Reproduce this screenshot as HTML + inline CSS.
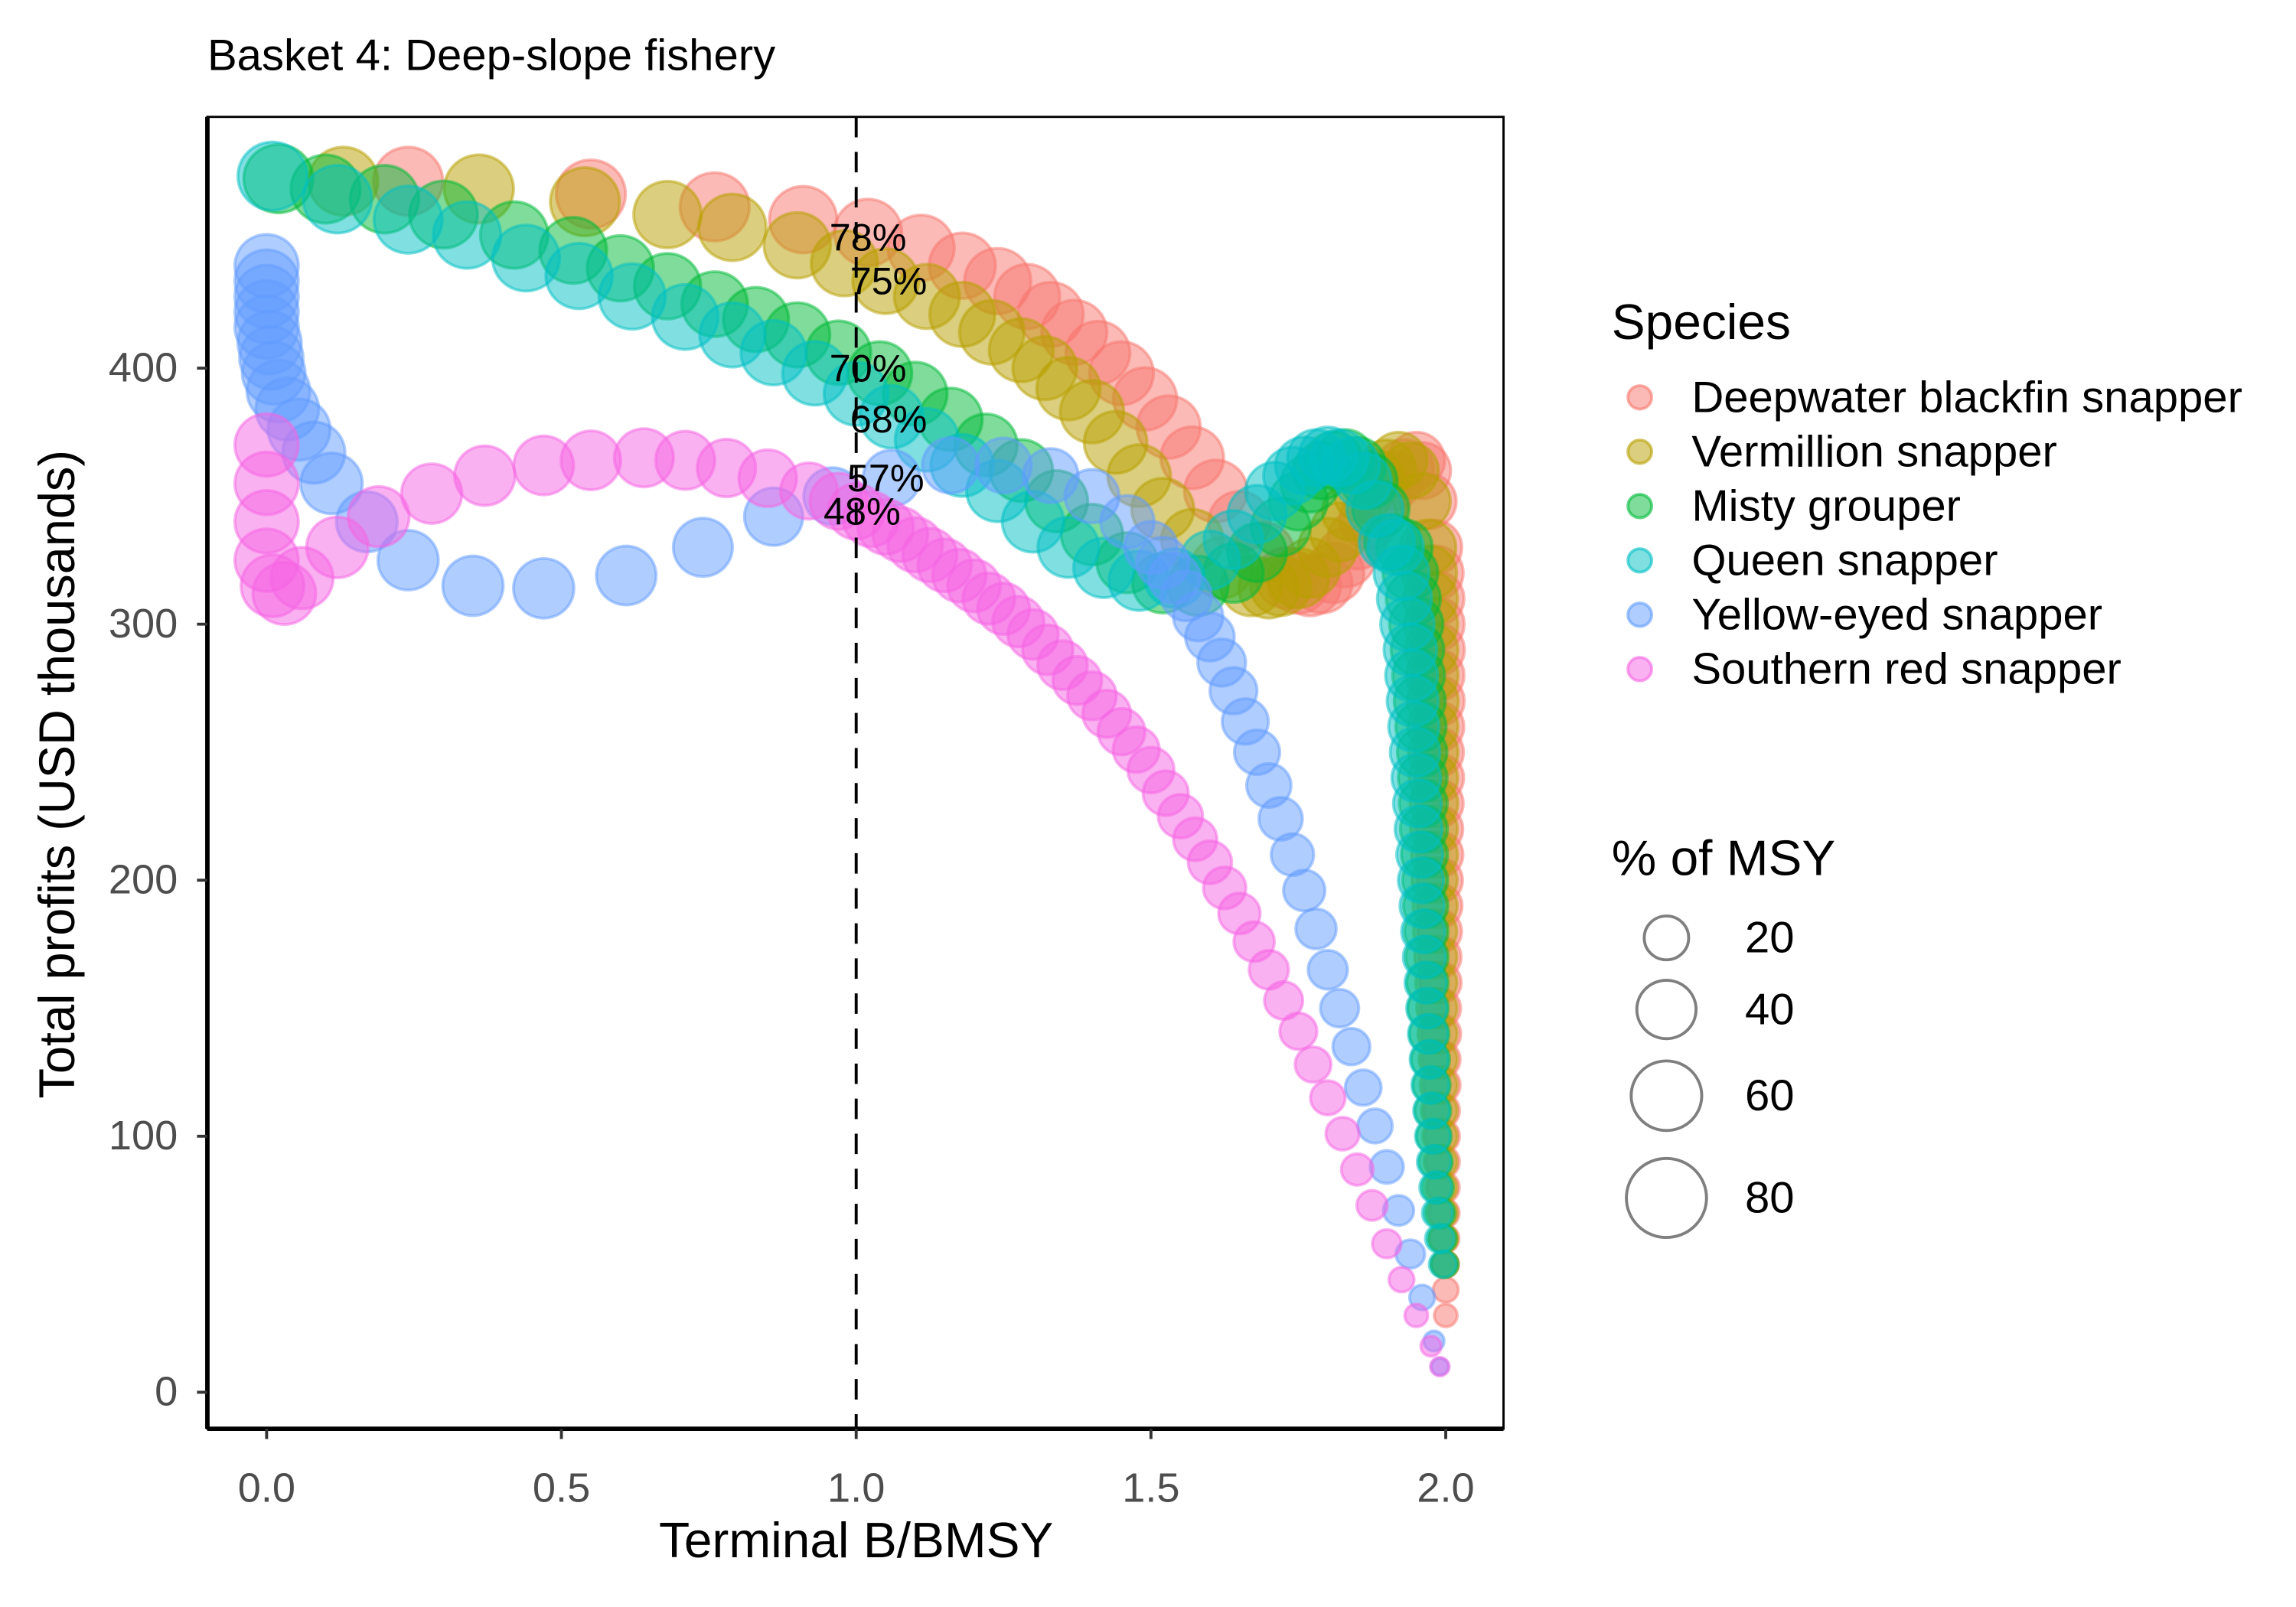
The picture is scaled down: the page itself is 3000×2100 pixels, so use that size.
<!DOCTYPE html>
<html><head><meta charset="utf-8"><style>
html,body{margin:0;padding:0;background:#fff;}
svg{display:block;font-family:"Liberation Sans",Arial,sans-serif;}
</style></head><body>
<svg id="chart" width="3000" height="2100" viewBox="0 0 1550 1100" preserveAspectRatio="none" xmlns="http://www.w3.org/2000/svg">
<text x="140" y="48" font-size="30" fill="#000">Basket 4: Deep-slope fishery</text>
<rect x="140" y="80" width="875" height="898" fill="#fff" stroke="#000" stroke-width="1.5"/>
<g id="marks"></g>
<line x1="578" y1="80" x2="578" y2="978" stroke="#000" stroke-width="2" stroke-dasharray="14,10"/>
<g id="labels"></g>
<line x1="140" y1="978" x2="1015" y2="978" stroke="#000" stroke-width="3"/>
<line x1="140" y1="80" x2="140" y2="978" stroke="#000" stroke-width="3"/>
<g id="axes"></g>
<text x="578" y="1066" font-size="34" text-anchor="middle" fill="#000">Terminal B/BMSY</text>
<text x="50" y="530" font-size="34" text-anchor="middle" fill="#000" transform="rotate(-90 50 530)">Total profits (USD thousands)</text>
<g id="legend"></g>
</svg>
<script>
const NS='http://www.w3.org/2000/svg';
const species=['Deepwater blackfin snapper','Vermillion snapper','Misty grouper','Queen snapper','Yellow-eyed snapper','Southern red snapper'];
const colors=['#F8766D','#B79F00','#00BA38','#00BFC4','#619CFF','#F564E3'];
const xTicks=[0,0.5,1,1.5,2];
const xTickLabels=['0.0','0.5','1.0','1.5','2.0'];
const yTicks=[0,100,200,300,400];
const sizeBreaks=[20,40,60,80];
const pctLabels=['78%','75%','70%','68%','57%','48%'];
const pctLabelX=[1.02,1.055,1.02,1.055,1.05,1.01];
const pctLabelY=[451,434,400,380,357,344];

const colY=[330,320,310,300,290,280,270,260,250,240,230,220,210,200,190,180,170,160,150,140,130,120,110,100,90,80,70,60,50,40,30,20,10];
const colP=[33,32,31,30,29,28,27,26,25,24,23,22,21,20,19,18,17,16,15,14,13,12,11,10,9,8,7,6,5,4,3,2,1];

const redX=[0.24,0.55,0.76,0.91,1.02,1.11,1.18,1.24,1.29,1.33,1.37,1.41,1.45,1.49,1.53,1.57,1.61,1.65,1.69,1.73,1.75,1.77,1.79,1.81,1.83,1.85,1.87,1.89,1.91,1.93,1.95,1.96,1.97,
1.98,1.983,1.985,1.986,1.987,1.987,1.988,1.988,1.988,1.989,1.989,1.989,1.99,1.99,1.99,1.99,1.99,1.991,1.991,1.992,1.992,1.993,1.993,1.994,1.995,1.996,1.997,1.998,1.999,2,2];
const redY=[473,468,463,458,453,447,440,434,428,421,414,406,398,388,377,365,352,340,328,318,316,315,316,320,326,333,341,349,356,361,364,360,348].concat(colY);
const redP=[55,55,55,52,52,50,50,50,48,48,48,46,46,45,45,44,44,42,42,42,41,41,40,40,39,39,38,38,37,36,35,35,34].concat(colP);

const oliveX=[0.13,0.36,0.54,0.68,0.79,0.9,0.98,1.05,1.12,1.18,1.23,1.28,1.32,1.36,1.4,1.44,1.48,1.52,1.57,1.62,1.67,1.7,1.72,1.75,1.77,1.8,1.82,1.84,1.86,1.88,1.9,1.92,1.94,1.96,
1.97,1.972,1.974,1.975,1.976,1.977,1.978,1.978,1.979,1.979,1.98,1.98,1.981,1.981,1.982,1.982,1.983,1.984,1.985,1.986,1.987,1.988,1.989,1.99,1.991,1.992,1.994,1.996,1.998];
const oliveY=[473,470,465,460,455,448,441,434,428,421,414,407,400,392,383,371,358,345,333,322,315,314,315,318,322,330,336,344,351,357,361,364,360,348].concat(colY);
const oliveP=[55,55,55,52,52,50,50,49,48,48,47,46,46,45,45,44,44,43,42,42,41,40,40,40,39,38,38,37,37,36,35,35,34,34].concat(colP);

const greenX=[0.02,0.1,0.2,0.3,0.42,0.52,0.6,0.68,0.76,0.83,0.9,0.97,1.04,1.1,1.16,1.22,1.28,1.34,1.4,1.46,1.52,1.58,1.64,1.68,1.72,1.75,1.77,1.79,1.81,1.83,1.85,1.87,1.89,1.91,
1.93,1.94,1.945,1.95,1.952,1.954,1.956,1.958,1.96,1.961,1.962,1.963,1.964,1.965,1.966,1.967,1.968,1.969,1.97,1.972,1.974,1.976,1.978,1.98,1.983,1.986,1.99,1.994,1.998];
const greenY=[474,470,466,460,452,446,439,432,425,419,413,406,398,390,380,370,360,348,335,324,316,315,320,328,338,348,355,360,364,365,362,356,345,332].concat(colY);
const greenP=[55,55,54,53,52,51,50,50,49,48,48,47,46,46,45,44,44,43,42,41,40,40,39,38,38,37,37,36,36,35,35,34,34,34].concat(colP);

const tealX=[0.01,0.12,0.24,0.34,0.44,0.53,0.62,0.71,0.79,0.86,0.93,1,1.06,1.12,1.18,1.24,1.3,1.36,1.42,1.48,1.54,1.6,1.64,1.68,1.71,1.74,1.76,1.78,1.8,1.82,1.84,1.86,1.88,1.9,
1.915,1.925,1.93,1.935,1.94,1.942,1.944,1.946,1.948,1.95,1.952,1.954,1.956,1.958,1.96,1.962,1.964,1.966,1.968,1.97,1.972,1.974,1.976,1.978,1.98,1.983,1.986,1.99,1.995];
const tealY=[475,466,458,452,443,436,428,420,413,406,398,390,381,372,362,352,340,330,322,317,318,325,333,343,352,358,362,365,366,365,362,356,345,332].concat(colY);
const tealP=[55,54,53,52,51,50,50,49,48,48,47,46,45,45,44,43,42,41,40,40,39,38,38,37,37,36,36,35,35,35,34,34,34,33].concat(colP);

const blueX=[0,0,0,0,0,0.005,0.008,0.012,0.02,0.035,0.055,0.08,0.11,0.17,0.24,0.35,0.47,0.61,0.74,0.86,0.96,1.06,1.16,1.25,1.33,1.4,1.46,
1.5,1.52,1.54,1.56,1.58,1.6,1.62,1.64,1.66,1.68,1.7,1.72,1.74,1.76,1.78,1.8,1.82,1.84,1.86,1.88,1.9,1.92,1.94,1.96,1.98,1.99];
const blueY=[440,434,428,422,416,410,404,398,391,384,376,367,355,340,325,315,314,319,330,342,350,357,362,362,358,350,340,
330,324,318,311,303,295,285,274,262,250,237,224,210,196,181,165,150,135,119,104,88,71,54,37,20,10];
const blueP=[45,45,45,45,45,45,45,44,44,44,43,43,42,41,40,40,40,39,38,37,36,35,34,33,32,31,30,
29,28,27,26,25,24,23,22,21,20,19,18,17,16,15,14,13,12,11,10,9,7,6,4,2,1];

const pinkX=[0,0,0,0,0.01,0.03,0.06,0.12,0.19,0.28,0.37,0.47,0.55,0.64,0.71,0.78,0.85,0.92,0.97,
1.0,1.025,1.05,1.075,1.1,1.125,1.15,1.175,1.2,1.225,1.25,1.275,1.3,1.325,1.35,1.375,1.4,1.425,1.45,1.475,1.5,1.525,1.55,1.575,1.6,1.625,1.65,1.675,1.7,1.725,1.75,1.775,1.8,1.825,1.85,1.875,1.9,1.925,1.95,1.975,1.99];
const pinkY=[370,355,340,325,315,312,318,330,342,351,358,362,364,365,364,361,357,352,348,
344,341,338,335,331,327,323,319,315,310,306,301,296,290,284,278,272,265,258,251,243,234,225,216,207,197,187,176,165,153,141,128,115,101,87,73,58,44,30,18,10];
const pinkP=[45,45,45,45,44,44,43,42,41,40,40,39,39,38,38,37,36,35,35,
34,33,33,32,32,31,30,30,29,28,28,27,26,26,25,24,24,23,22,21,21,20,19,18,18,17,16,15,14,13,12,11,10,9,8,7,6,4,3,2,1.5];

const seriesX=[redX,oliveX,greenX,tealX,blueX,pinkX];
const seriesY=[redY,oliveY,greenY,tealY,blueY,pinkY];
const seriesP=[redP,oliveP,greenP,tealP,blueP,pinkP];

function sx(v){return 180+v*398;}
function sy(v){return 953-v*1.7525;}
function sr(p){return 3+2.75*Math.sqrt(p);}

const marks=document.getElementById('marks');
[0,1,2,3,4,5].forEach(function(s){
  const xs=seriesX[s],ys=seriesY[s],ps=seriesP[s];
  const n=Math.min(xs.length,ys.length,ps.length);
  for(let i=0;i<n;i++){
    const c=document.createElementNS(NS,'circle');
    c.setAttribute('cx',sx(xs[i]));c.setAttribute('cy',sy(ys[i]));c.setAttribute('r',sr(ps[i]));
    c.setAttribute('fill',colors[s]);c.setAttribute('fill-opacity','0.5');
    c.setAttribute('stroke',colors[s]);c.setAttribute('stroke-opacity','0.5');c.setAttribute('stroke-width','2');
    
    
    marks.appendChild(c);
  }
});

const labels=document.getElementById('labels');
pctLabels.forEach(function(t,i){
  const e=document.createElementNS(NS,'text');
  e.setAttribute('x',sx(pctLabelX[i]));e.setAttribute('y',sy(pctLabelY[i])+9);
  e.setAttribute('font-size','26');e.setAttribute('text-anchor','middle');e.textContent=t;
  
  
  labels.appendChild(e);
});

const axes=document.getElementById('axes');
xTicks.forEach(function(v,i){
  const l=document.createElementNS(NS,'line');
  l.setAttribute('x1',sx(v));l.setAttribute('x2',sx(v));l.setAttribute('y1',978);l.setAttribute('y2',985);
  l.setAttribute('stroke','#333');l.setAttribute('stroke-width','2');
  
  
  axes.appendChild(l);
  const t=document.createElementNS(NS,'text');
  t.setAttribute('x',sx(v));t.setAttribute('y',1028);t.setAttribute('font-size','28');
  t.setAttribute('text-anchor','middle');t.setAttribute('fill','#4d4d4d');t.textContent=xTickLabels[i];
  
  
  axes.appendChild(t);
});
yTicks.forEach(function(v){
  const l=document.createElementNS(NS,'line');
  l.setAttribute('x1',133);l.setAttribute('x2',140);l.setAttribute('y1',sy(v));l.setAttribute('y2',sy(v));
  l.setAttribute('stroke','#333');l.setAttribute('stroke-width','2');
  
  
  axes.appendChild(l);
  const t=document.createElementNS(NS,'text');
  t.setAttribute('x',120);t.setAttribute('y',sy(v)+9);t.setAttribute('font-size','28');
  t.setAttribute('text-anchor','end');t.setAttribute('fill','#4d4d4d');t.textContent=v;
  
  
  axes.appendChild(t);
});

const lg=document.getElementById('legend');
const lt=document.createElementNS(NS,'text');
lt.setAttribute('x',1088);lt.setAttribute('y',232);lt.setAttribute('font-size','34');lt.textContent='Species';


lg.appendChild(lt);
species.forEach(function(name,i){
  const y=272+i*37.2;
  const c=document.createElementNS(NS,'circle');
  c.setAttribute('cx',1107);c.setAttribute('cy',y);c.setAttribute('r',8);
  c.setAttribute('fill',colors[i]);c.setAttribute('fill-opacity','0.5');
  c.setAttribute('stroke',colors[i]);c.setAttribute('stroke-opacity','0.6');c.setAttribute('stroke-width','2');
  
  
  lg.appendChild(c);
  const t=document.createElementNS(NS,'text');
  t.setAttribute('x',1142);t.setAttribute('y',y+10);t.setAttribute('font-size','30');t.textContent=name;
  
  
  lg.appendChild(t);
});
const st=document.createElementNS(NS,'text');
st.setAttribute('x',1088);st.setAttribute('y',599);st.setAttribute('font-size','34');st.textContent='% of MSY';


lg.appendChild(st);
const sizeY=[642,691,750,820];
sizeBreaks.forEach(function(b,i){
  const c=document.createElementNS(NS,'circle');
  c.setAttribute('cx',1125);c.setAttribute('cy',sizeY[i]);c.setAttribute('r',sr(b)*0.98);
  c.setAttribute('fill','none');c.setAttribute('stroke','#7f7f7f');c.setAttribute('stroke-width','2');
  
  
  lg.appendChild(c);
  const t=document.createElementNS(NS,'text');
  t.setAttribute('x',1178);t.setAttribute('y',sizeY[i]+10);t.setAttribute('font-size','30');t.textContent=b;
  
  
  lg.appendChild(t);
});
</script>
</body></html>
